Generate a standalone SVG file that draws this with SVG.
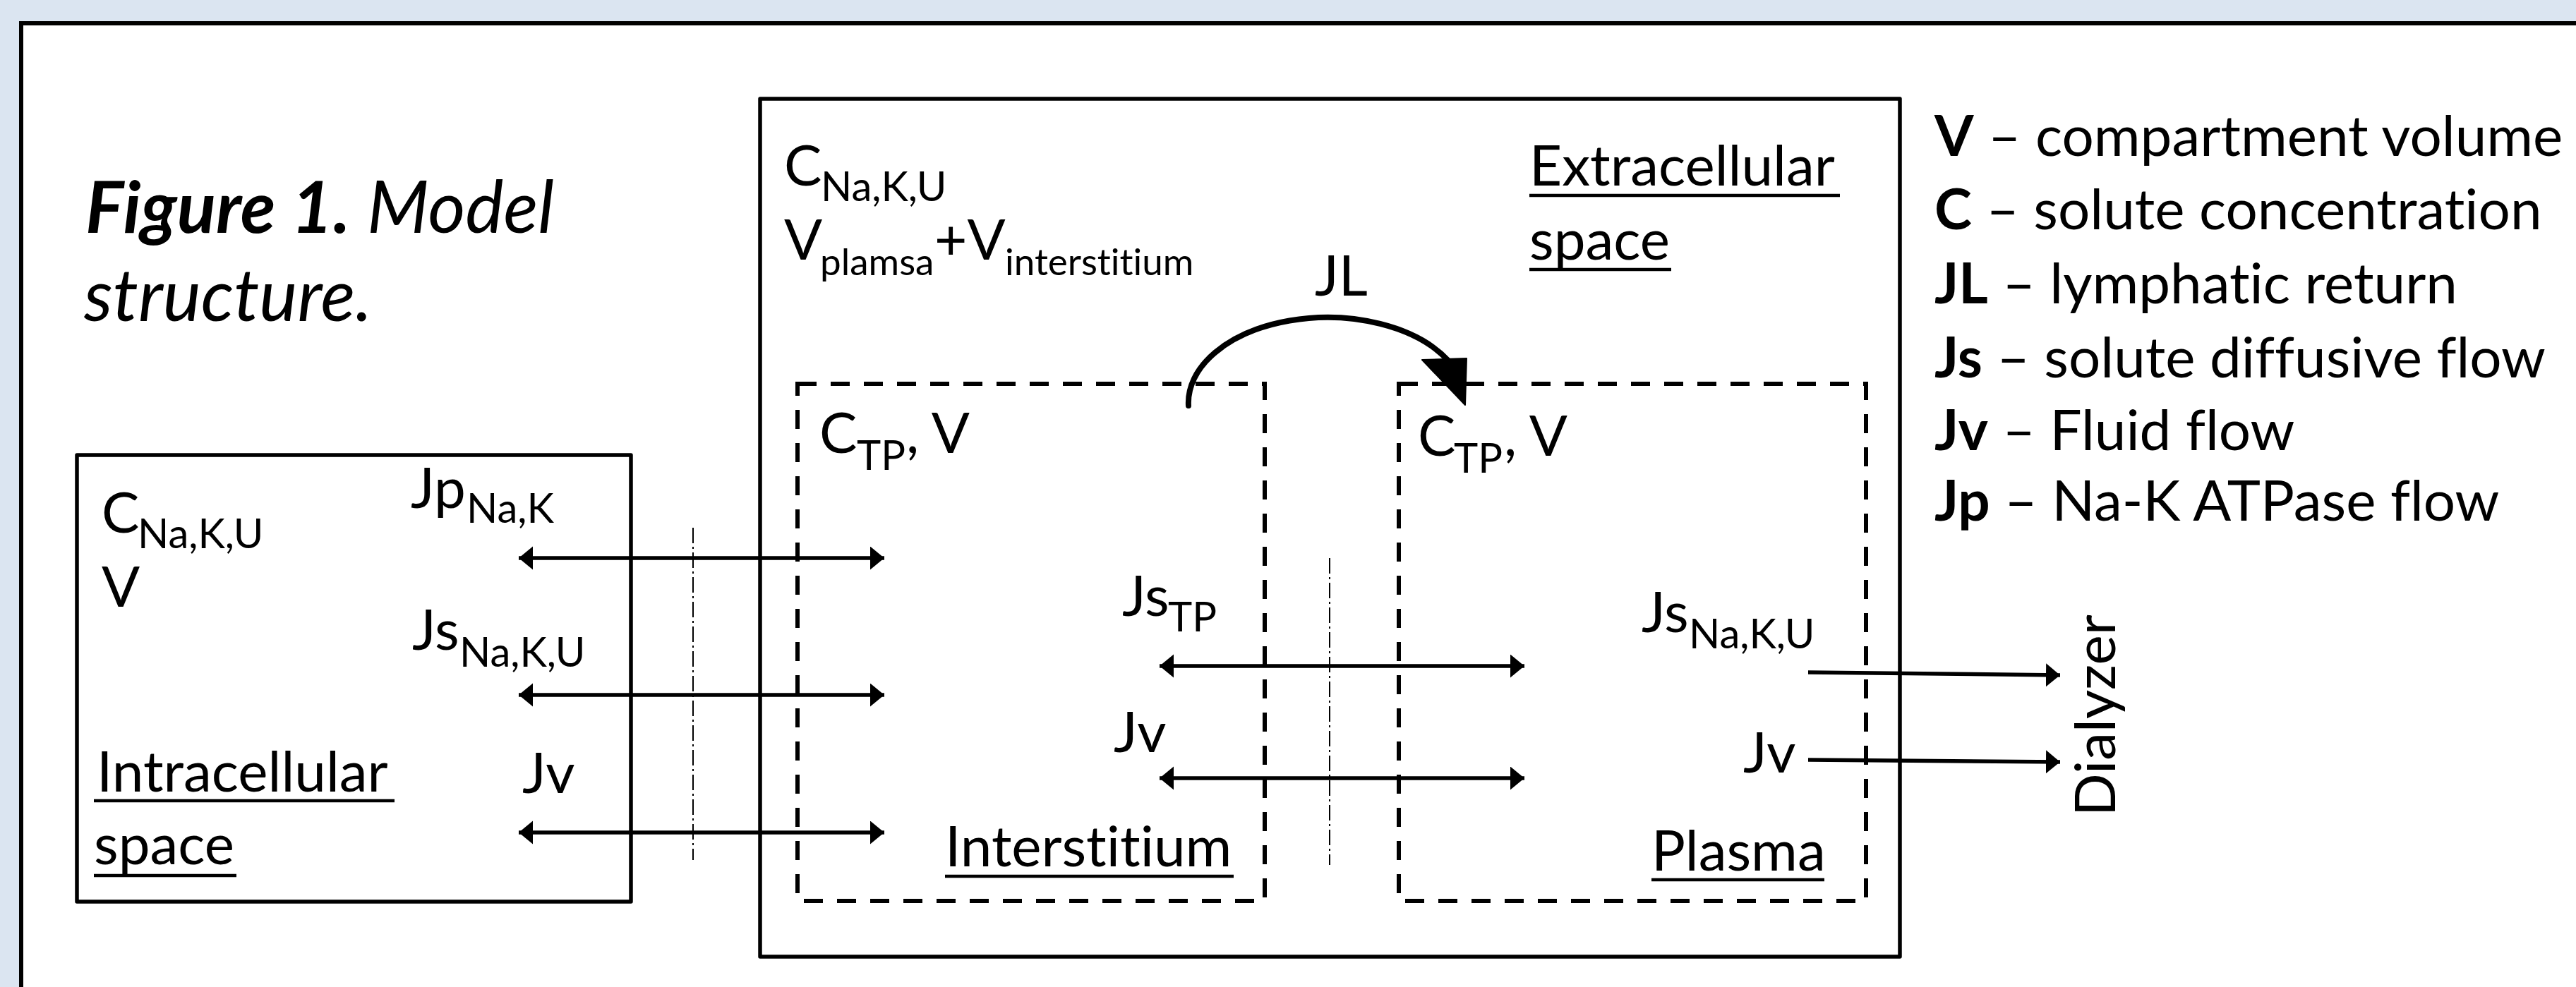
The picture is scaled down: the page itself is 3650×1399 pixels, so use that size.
<svg xmlns="http://www.w3.org/2000/svg" width="3650" height="1399" viewBox="0 0 3650 1399">
<style>
text{font-family:Lato,"Liberation Sans",sans-serif;fill:#000;font-variant-ligatures:none;font-feature-settings:"liga" 0,"clig" 0}
.m{font-size:80px}
.s{font-size:58px}
.s2{font-size:53px}
.b{font-weight:bold}
.box{fill:none;stroke:#000;stroke-width:5.5;stroke-linejoin:round}
.dash{fill:none;stroke:#000;stroke-width:6;stroke-dasharray:27 20}
.ul{stroke:#000;stroke-width:4.5}
.arr{stroke:#000;stroke-width:5.5;fill:none;marker-start:url(#ah);marker-end:url(#ah)}
.one{stroke:#000;stroke-width:5.5;fill:none;marker-end:url(#ah)}
.dd{stroke:#000;stroke-width:2;stroke-dasharray:22 5 3 5;fill:none}
</style>
<defs>
<marker id="ah" markerUnits="userSpaceOnUse" markerWidth="22" markerHeight="34" refX="20" refY="16.5" orient="auto-start-reverse">
<path d="M0,0 L20,16.5 L0,33 z" fill="#000"/>
</marker>
</defs>
<rect x="0" y="0" width="3650" height="1399" fill="#dbe5f1"/>
<rect x="30" y="33" width="3700" height="1450" fill="#fff" stroke="#000" stroke-width="6"/>

<g id="title">
<text x="121" y="330" style="font-size:102px;font-style:italic"><tspan font-weight="bold">Figure 1.</tspan> Model</text>
<text x="119" y="455" style="font-size:102px;font-style:italic">structure.</text>
</g>

<g id="node-intracellular">
<rect class="box" x="109" y="645" width="785" height="633"/>
<text class="m" x="144" y="755">C<tspan class="s" x="195" y="777">Na,K,U</tspan></text>
<text class="m" x="144" y="860">V</text>
<text class="m" x="137" y="1122">Intracellular</text>
<line class="ul" x1="133" y1="1135" x2="559" y2="1135"/>
<text class="m" x="133" y="1225">space</text>
<line class="ul" x1="133" y1="1241" x2="335" y2="1241"/>
</g>

<g id="node-extracellular">
<rect class="box" x="1077" y="140" width="1615" height="1216"/>
<text class="m" x="1111" y="263">C<tspan class="s" x="1163" y="285">Na,K,U</tspan></text>
<text class="m" x="1111" y="368">V<tspan class="s2" x="1162" y="390">plamsa</tspan><tspan x="1324" y="368">+V</tspan><tspan class="s2" x="1424" y="390">interstitium</tspan></text>
<text class="m" x="2167" y="263">Extracellular</text>
<line class="ul" x1="2167" y1="277" x2="2607" y2="277"/>
<text class="m" x="2167" y="368">space</text>
<line class="ul" x1="2167" y1="382" x2="2368" y2="382"/>
</g>

<g id="node-interstitium">
<rect class="dash" x="1130" y="544" width="662" height="733"/>
<text class="m" x="1161" y="642">C<tspan class="s" x="1214" y="666">TP</tspan><tspan x="1284" y="642">, V</tspan></text>
<text class="m" x="1339" y="1228">Interstitium</text>
<line class="ul" x1="1339" y1="1242" x2="1748" y2="1242"/>
</g>

<g id="node-plasma">
<rect class="dash" x="1982" y="544" width="662" height="733"/>
<text class="m" x="2009" y="646">C<tspan class="s" x="2060" y="670">TP</tspan><tspan x="2131" y="646">, V</tspan></text>
<text class="m" x="2340" y="1234">Plasma</text>
<line class="ul" x1="2340" y1="1247" x2="2585" y2="1247"/>
</g>

<g id="node-dialyzer">
<text class="m" transform="translate(2997,1157) rotate(-90)">Dialyzer</text>
</g>

<g id="legend">
<text class="m" x="2741" y="221"><tspan class="b">V</tspan> – compartment volume</text>
<text class="m" x="2741" y="325"><tspan class="b">C</tspan> – solute concentration</text>
<text class="m" x="2741" y="430"><tspan class="b">JL</tspan> – lymphatic return</text>
<text class="m" x="2741" y="535"><tspan class="b">Js</tspan> – solute diffusive flow</text>
<text class="m" x="2741" y="638"><tspan class="b">Jv</tspan> – Fluid flow</text>
<text class="m" x="2741" y="738"><tspan class="b">Jp</tspan> – Na-K ATPase flow</text>
</g>

<g id="connectors">
<line class="dd" x1="982" y1="748" x2="982" y2="1219"/>
<line class="dd" x1="1884" y1="791" x2="1884" y2="1226"/>
<line class="arr" x1="735" y1="791" x2="1253" y2="791"/>
<line class="arr" x1="735" y1="985" x2="1253" y2="985"/>
<line class="arr" x1="735" y1="1180" x2="1253" y2="1180"/>
<line class="arr" x1="1643" y1="944" x2="2160" y2="944"/>
<line class="arr" x1="1643" y1="1103" x2="2160" y2="1103"/>
<line class="one" x1="2562" y1="953" x2="2919" y2="957"/>
<line class="one" x1="2562" y1="1077" x2="2919" y2="1080"/>
<path d="M1684,575 A197,121 0 0 1 2052,511" fill="none" stroke="#000" stroke-width="8" stroke-linecap="round"/>
<path d="M2015,510 L2078,508 L2076,574 z" fill="#000" stroke="#000" stroke-width="2" stroke-linejoin="round"/>
<text class="m" x="1863" y="419">JL</text>
<text class="m" x="582" y="720">Jp<tspan class="s" x="661" y="741">Na,K</tspan></text>
<text class="m" x="584" y="921">Js<tspan class="s" x="651" y="945">Na,K,U</tspan></text>
<text class="m" x="740" y="1124">Jv</text>
<text class="m" x="1590" y="873">Js<tspan class="s" x="1655" y="895">TP</tspan></text>
<text class="m" x="1578" y="1066">Jv</text>
<text class="m" x="2326" y="896">Js<tspan class="s" x="2393" y="919">Na,K,U</tspan></text>
<text class="m" x="2470" y="1095">Jv</text>
</g>
</svg>
